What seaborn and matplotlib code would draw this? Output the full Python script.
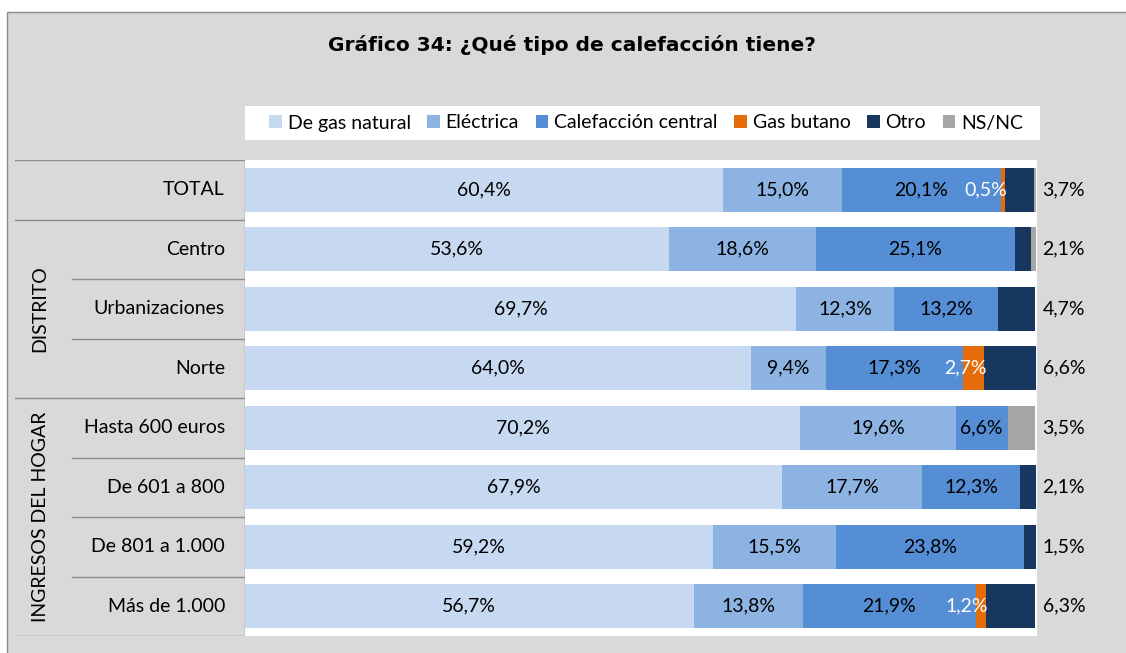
import pandas as pd
import matplotlib.pyplot as plt
import seaborn as sns
from matplotlib.patches import Rectangle, Patch

# Datos del gráfico
categorias = ['TOTAL', 'Centro', 'Urbanizaciones', 'Norte', 'Hasta 600 euros',
              'De 601 a 800', 'De 801 a 1.000', 'Más de 1.000']
series = ['De gas natural', 'Eléctrica', 'Calefacción central', 'Gas butano', 'Otro', 'NS/NC']
gas_natural = [60.4, 53.6, 69.7, 64.0, 70.2, 67.9, 59.2, 56.7]
electrica = [15.0, 18.6, 12.3, 9.4, 19.6, 17.7, 15.5, 13.8]
central = [20.1, 25.1, 13.2, 17.3, 6.6, 12.3, 23.8, 21.9]
butano = [0.5, 0.0, 0.0, 2.7, 0.0, 0.0, 0.0, 1.2]
otro = [3.7, 2.1, 4.7, 6.6, 0.0, 2.1, 1.5, 6.3]
nsnc = [0.3, 0.6, 0.0, 0.0, 3.5, 0.0, 0.0, 0.0]
colores = ['#c6d9f1', '#8db3e2', '#558ed5', '#e46c0a', '#17375e', '#a6a6a6']

valores = [gas_natural, electrica, central, butano, otro, nsnc]
df = pd.DataFrame({s: v for s, v in zip(series, valores)}, index=categorias)
acum = df.cumsum(axis=1)

W, H = 1126, 653
fig = plt.figure(figsize=(W / 100, H / 100), dpi=100)
fig.patch.set_facecolor('white')
fuente = 'Lato'
fs = 14

# fondo gris con borde
fig.patches.append(Rectangle((7 / W, -0.1), 1.2, 1.1 - 12 / H, transform=fig.transFigure,
                             facecolor='#d9d9d9', edgecolor='#8c8c8c', lw=1, zorder=-10))

ax = fig.add_axes([245 / W, 17 / H, 792 / W, 476 / H])
ax.set_facecolor('white')

# barras apiladas: se dibuja el acumulado de mayor a menor
for s, c in reversed(list(zip(series, colores))):
    d = pd.DataFrame({'categoria': categorias, 'valor': acum[s].values})
    sns.barplot(data=d, x='valor', y='categoria', order=categorias, color=c,
                width=0.74, errorbar=None, saturation=1, ax=ax, orient='h')

ax.set_xlim(0, 100.1)
ax.set_ylim(7.5, -0.5)
ax.set_xlabel('')
ax.set_ylabel('')
ax.set_xticks([])
ax.set_yticks([])
for sp in ax.spines.values():
    sp.set_visible(False)

fmt = lambda v: f'{v:.1f}%'.replace('.', ',')
for i, cat in enumerate(categorias):
    inicio = 0
    for s in series[:3]:
        v = df.loc[cat, s]
        if v > 0:
            ax.text(inicio + v / 2, i, fmt(v), ha='center', va='center',
                    fontsize=fs, family=fuente, color='black')
        inicio += v
    vb = df.loc[cat, 'Gas butano']
    if vb > 0:
        ax.text(inicio + vb + 0.3, i, fmt(vb), ha='right', va='center',
                fontsize=fs, family=fuente, color='white')
    vd = df.loc[cat, 'Otro'] if df.loc[cat, 'Otro'] > 0 else df.loc[cat, 'NS/NC']
    ax.text(100.8, i, fmt(vd), ha='left', va='center', fontsize=fs,
            family=fuente, color='black', clip_on=False)

# panel de etiquetas a la izquierda
axl = fig.add_axes([15 / W, 17 / H, 230 / W, 476 / H])
axl.set_xlim(0, 1)
axl.set_ylim(7.5, -0.5)
axl.axis('off')
gris = '#8c8c8c'
for y in [-0.5, 0.5, 3.5, 7.5]:
    axl.plot([0, 1], [y, y], color=gris, lw=1)
for y in [1.5, 2.5, 4.5, 5.5, 6.5]:
    axl.plot([0.248, 1], [y, y], color=gris, lw=1)
axl.plot([1, 1], [-0.5, 7.5], color=gris, lw=1)
for i, cat in enumerate(categorias):
    axl.text(0.913, i, cat, ha='right', va='center', fontsize=fs, family=fuente)
axl.text(0.109, 2, 'DISTRITO', rotation=90, ha='center', va='center',
         fontsize=fs, family=fuente)
axl.text(0.109, 5.5, 'INGRESOS DEL HOGAR', rotation=90, ha='center', va='center',
         fontsize=fs, family=fuente)

# título
fig.text(572 / W, 1 - 45 / H, 'Gráfico 34: ¿Qué tipo de calefacción tiene?',
         ha='center', va='center', fontsize=14.5, fontweight='bold', family='DejaVu Sans')

# leyenda
fig.patches.append(Rectangle((245 / W, 1 - 140 / H), 795 / W, 34 / H,
                             transform=fig.transFigure, facecolor='white',
                             edgecolor='none', zorder=-5))
handles = [Patch(facecolor=c, edgecolor='none') for c in colores]
fig.legend(handles, series, loc='center', bbox_to_anchor=(646 / W, 1 - 123 / H),
           ncol=6, frameon=False, prop={'family': fuente, 'size': fs},
           handlelength=0.65, handleheight=0.65, handletextpad=0.3, columnspacing=0.85)

fig.savefig('out.png', dpi=100)
